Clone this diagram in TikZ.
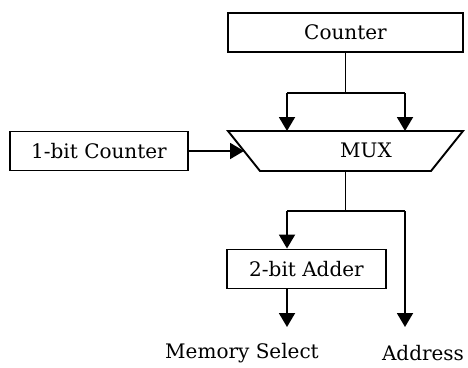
\documentclass[tikz,border=0pt]{standalone}
\usepackage{fontspec}
\setmainfont{DejaVu Serif}
\usetikzlibrary{arrows.meta}

\begin{document}
\begin{tikzpicture}[x=1pt, y=-1pt, line width=1.9pt,
    box/.style={draw, rectangle, minimum height=39pt, inner sep=0pt},
    arr/.style={-{Triangle[length=14pt, width=16pt]}},
    lbl/.style={font=\fontsize{20}{24}\selectfont}]
  \useasboundingbox (0,0) rectangle (468,367);

  % 1. MUX の台形
  \coordinate (mA) at (228,131);
  \coordinate (mB) at (463,131);
  \coordinate (mC) at (431,171);
  \coordinate (mD) at (260,171);
  \coordinate (mW) at (244,151);
  \coordinate (mN) at (345.5,131);
  \coordinate (mS) at (345.5,171);
  \draw[line join=miter] (mA) -- (mB) -- (mC) -- (mD) -- cycle;
  \node[lbl] (muxlabel) at (366,150) {MUX};

  % 2. ブロック
  \node[box, lbl, minimum width=235pt] (counter) at (345.5,32.5) {Counter};
  \node[box, lbl, minimum width=178pt] (onebit) at (99,151) {1-bit Counter};
  \node[box, lbl, minimum width=159pt] (adder) at (306.5,269) {2-bit Adder};

  % 3. 出力ラベル
  \node[lbl] (memsel) at (242,353) {Memory Select};
  \node[lbl] (addr) at (423,353) {Address};

  % 4. 分岐点
  \coordinate (c1) at (287,93);
  \coordinate (c2) at (405,93);
  \coordinate (s1) at (287,211);
  \coordinate (s2) at (405,211);
  \coordinate (e1) at (287,327);
  \coordinate (e2) at (405,327);

  % 5. Counter -> MUX
  \draw (counter.south) -- (counter.south |- c1);
  \draw (c1) -- (c2);
  \draw[arr] (c1) -- (c1 |- mN);
  \draw[arr] (c2) -- (c2 |- mN);

  % 6. 1-bit Counter -> MUX
  \draw[arr] (onebit.east) -- (mW);

  % 7. MUX の出力
  \draw (mS) -- (mS |- s1);
  \draw (s1) -- (s2);
  \draw[arr] (s1) -- (s1 |- adder.north);
  \draw[arr] (adder.south -| e1) -- (e1);
  \draw[arr] (s2) -- (e2);

\end{tikzpicture}
\end{document}
